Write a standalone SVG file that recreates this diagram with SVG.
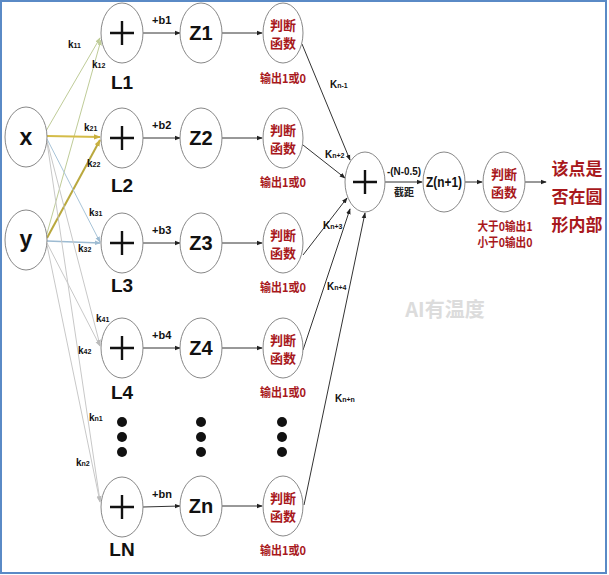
<svg xmlns="http://www.w3.org/2000/svg" width="609" height="575" viewBox="0 0 609 575">
<defs>
<marker id="ah" viewBox="0 0 8 8" refX="7" refY="4" markerWidth="6" markerHeight="6" orient="auto" markerUnits="userSpaceOnUse"><path d="M0,1 L8,4 L0,7 z" fill="#222"/></marker>
<marker id="ahy" viewBox="0 0 8 8" refX="7" refY="4" markerWidth="7" markerHeight="7" orient="auto" markerUnits="userSpaceOnUse"><path d="M0,1 L8,4 L0,7 z" fill="#c9b040"/></marker>
<marker id="ahb" viewBox="0 0 8 8" refX="7" refY="4" markerWidth="6" markerHeight="6" orient="auto" markerUnits="userSpaceOnUse"><path d="M0,1 L8,4 L0,7 z" fill="#9dbbd2"/></marker>
<marker id="ahg" viewBox="0 0 8 8" refX="7" refY="4" markerWidth="6" markerHeight="6" orient="auto" markerUnits="userSpaceOnUse"><path d="M0,1 L8,4 L0,7 z" fill="#bfcc98"/></marker>
<marker id="ahk" viewBox="0 0 8 8" refX="7" refY="4" markerWidth="6" markerHeight="6" orient="auto" markerUnits="userSpaceOnUse"><path d="M0,1 L8,4 L0,7 z" fill="#bbb"/></marker>
</defs>
<style>
.n{fill:#fff;stroke:#888;stroke-width:1}
.plus{stroke:#111;stroke-width:2.4;fill:none}
.big{font-family:"Liberation Sans",Arial,sans-serif;font-weight:bold;fill:#111;text-anchor:middle}
.lab{font-family:"Liberation Sans",Arial,sans-serif;font-weight:bold;fill:#111}
.red{font-family:"Noto Sans CJK SC","Liberation Sans",sans-serif;font-weight:bold;fill:#a8181c;text-anchor:middle}
.c{stroke:#333;stroke-width:1;fill:none;marker-end:url(#ah)}
.dot{fill:#111}
</style>
<rect x="1" y="1" width="605" height="572" fill="#fff" stroke="#5a8ac6" stroke-width="2"/>
<text x="445" y="317" font-family="Noto Sans CJK SC,Liberation Sans,sans-serif" font-size="20" font-weight="bold" fill="#dcdcdc" text-anchor="middle">AI有温度</text>

<g id="connectors">
<line x1="46" y1="131" x2="100" y2="38" stroke="#bfcc98" stroke-width="1" marker-end="url(#ahg)"/>
<line x1="46" y1="237" x2="101" y2="40" stroke="#bfcc98" stroke-width="1" marker-end="url(#ahg)"/>
<line x1="47" y1="136" x2="100" y2="137" stroke="#d4bc48" stroke-width="2" marker-end="url(#ahy)"/>
<line x1="47" y1="238" x2="100" y2="140" stroke="#b9a83e" stroke-width="2" marker-end="url(#ahy)"/>
<line x1="47" y1="139" x2="100" y2="242" stroke="#a8c4d8" stroke-width="1" marker-end="url(#ahb)"/>
<line x1="47" y1="241" x2="100" y2="243" stroke="#9dbbd2" stroke-width="1.5" marker-end="url(#ahb)"/>
<line x1="47" y1="141" x2="100" y2="345" stroke="#c8c8c8" stroke-width="1" marker-end="url(#ahk)"/>
<line x1="47" y1="243" x2="100" y2="346" stroke="#c8c8c8" stroke-width="1" marker-end="url(#ahk)"/>
<line x1="47" y1="142" x2="100" y2="501" stroke="#c8c8c8" stroke-width="1" marker-end="url(#ahk)"/>
<line x1="47" y1="245" x2="100" y2="502" stroke="#c8c8c8" stroke-width="1" marker-end="url(#ahk)"/>

<line class="c" x1="143" y1="33" x2="180" y2="33"/>
<line class="c" x1="143" y1="138" x2="180" y2="138"/>
<line class="c" x1="143" y1="243" x2="180" y2="243"/>
<line class="c" x1="143" y1="348" x2="180" y2="348"/>
<line class="c" x1="143" y1="507" x2="180" y2="506"/>
<line class="c" x1="222" y1="33" x2="262" y2="33"/>
<line class="c" x1="222" y1="138" x2="262" y2="138"/>
<line class="c" x1="222" y1="243" x2="262" y2="243"/>
<line class="c" x1="222" y1="348" x2="262" y2="348"/>
<line class="c" x1="222" y1="506" x2="262" y2="506"/>

<line class="c" x1="302" y1="44" x2="350" y2="160"/>
<line class="c" x1="303" y1="145" x2="345" y2="178"/>
<line class="c" x1="303" y1="255" x2="347" y2="198"/>
<line class="c" x1="303" y1="350" x2="350" y2="209"/>
<line class="c" x1="304" y1="505" x2="365" y2="213"/>

<line class="c" x1="385" y1="182" x2="422" y2="182"/>
<line class="c" x1="465" y1="182" x2="482" y2="182"/>
<line class="c" x1="525" y1="182" x2="546" y2="182"/>

<text class="lab" x="68" y="48" font-size="10">k<tspan font-size="7">11</tspan></text>
<text class="lab" x="92" y="68" font-size="10">k<tspan font-size="7">12</tspan></text>
<text class="lab" x="84" y="131" font-size="10">k<tspan font-size="7">21</tspan></text>
<text class="lab" x="87" y="167" font-size="10">k<tspan font-size="7">22</tspan></text>
<text class="lab" x="89" y="216" font-size="10">k<tspan font-size="7">31</tspan></text>
<text class="lab" x="78" y="252" font-size="10">k<tspan font-size="7">32</tspan></text>
<text class="lab" x="96" y="322" font-size="10">k<tspan font-size="7">41</tspan></text>
<text class="lab" x="78" y="354" font-size="10">k<tspan font-size="7">42</tspan></text>
<text class="lab" x="89" y="421" font-size="10">k<tspan font-size="7">n1</tspan></text>
<text class="lab" x="76" y="466" font-size="10">k<tspan font-size="7">n2</tspan></text>

<text class="lab" x="152" y="24" font-size="11">+b1</text>
<text class="lab" x="152" y="129" font-size="11">+b2</text>
<text class="lab" x="152" y="234" font-size="11">+b3</text>
<text class="lab" x="152" y="339" font-size="11">+b4</text>
<text class="lab" x="152" y="498" font-size="11">+bn</text>

<text class="lab" x="330" y="88" font-size="10">K<tspan font-size="7">n-1</tspan></text>
<text class="lab" x="325" y="158" font-size="10">K<tspan font-size="7">n+2</tspan></text>
<text class="lab" x="323" y="229" font-size="10">K<tspan font-size="7">n+3</tspan></text>
<text class="lab" x="327" y="290" font-size="10">K<tspan font-size="7">n+4</tspan></text>
<text class="lab" x="335" y="402" font-size="10">K<tspan font-size="7">n+n</tspan></text>

<text class="lab" x="387" y="175" font-size="11" textLength="34" lengthAdjust="spacingAndGlyphs">-(N-0.5)</text>
<text class="red" x="404" y="196" font-size="10" style="fill:#222">截距</text>
</g>

<g id="x"><ellipse class="n" cx="26" cy="137" rx="21" ry="30"/><text class="big" x="26" y="145" font-size="23">x</text></g>
<g id="y"><ellipse class="n" cx="26" cy="240" rx="21" ry="30"/><text class="big" x="26" y="247" font-size="23">y</text></g>

<g id="L1"><ellipse class="n" cx="122" cy="33" rx="21" ry="30"/><path class="plus" d="M110,33 H134 M122,21 V45"/><text class="big" x="122" y="89" font-size="19">L1</text></g>
<g id="L2"><ellipse class="n" cx="122" cy="138" rx="21" ry="30"/><path class="plus" d="M110,138 H134 M122,126 V150"/><text class="big" x="122" y="192" font-size="19">L2</text></g>
<g id="L3"><ellipse class="n" cx="122" cy="243" rx="21" ry="30"/><path class="plus" d="M110,243 H134 M122,231 V255"/><text class="big" x="122" y="292" font-size="19">L3</text></g>
<g id="L4"><ellipse class="n" cx="122" cy="348" rx="21" ry="30"/><path class="plus" d="M110,348 H134 M122,336 V360"/><text class="big" x="122" y="399" font-size="19">L4</text></g>
<g id="LN"><ellipse class="n" cx="122" cy="507" rx="21" ry="30"/><path class="plus" d="M110,507 H134 M122,495 V519"/><text class="big" x="122" y="556" font-size="19">LN</text></g>

<g id="Z1"><ellipse class="n" cx="201" cy="33" rx="21" ry="30"/><text class="big" x="201" y="40" font-size="20">Z1</text></g>
<g id="Z2"><ellipse class="n" cx="201" cy="138" rx="21" ry="30"/><text class="big" x="201" y="145" font-size="20">Z2</text></g>
<g id="Z3"><ellipse class="n" cx="201" cy="243" rx="21" ry="30"/><text class="big" x="201" y="250" font-size="20">Z3</text></g>
<g id="Z4"><ellipse class="n" cx="201" cy="348" rx="21" ry="30"/><text class="big" x="201" y="355" font-size="20">Z4</text></g>
<g id="Zn"><ellipse class="n" cx="201" cy="506" rx="21" ry="30"/><text class="big" x="201" y="513" font-size="20">Zn</text></g>

<g id="J1"><ellipse class="n" cx="283" cy="33" rx="20" ry="30"/><text class="red" x="283" y="30" font-size="13">判断</text><text class="red" x="283" y="48" font-size="13">函数</text><text class="red" x="283" y="83" font-size="12" textLength="46" lengthAdjust="spacingAndGlyphs">输出1或0</text></g>
<g id="J2"><ellipse class="n" cx="283" cy="138" rx="20" ry="30"/><text class="red" x="283" y="135" font-size="13">判断</text><text class="red" x="283" y="153" font-size="13">函数</text><text class="red" x="283" y="187" font-size="12" textLength="46" lengthAdjust="spacingAndGlyphs">输出1或0</text></g>
<g id="J3"><ellipse class="n" cx="283" cy="243" rx="20" ry="30"/><text class="red" x="283" y="240" font-size="13">判断</text><text class="red" x="283" y="258" font-size="13">函数</text><text class="red" x="283" y="292" font-size="12" textLength="46" lengthAdjust="spacingAndGlyphs">输出1或0</text></g>
<g id="J4"><ellipse class="n" cx="283" cy="348" rx="20" ry="30"/><text class="red" x="283" y="345" font-size="13">判断</text><text class="red" x="283" y="363" font-size="13">函数</text><text class="red" x="283" y="397" font-size="12" textLength="46" lengthAdjust="spacingAndGlyphs">输出1或0</text></g>
<g id="JN"><ellipse class="n" cx="283" cy="506" rx="20" ry="30"/><text class="red" x="283" y="503" font-size="13">判断</text><text class="red" x="283" y="521" font-size="13">函数</text><text class="red" x="283" y="555" font-size="12" textLength="46" lengthAdjust="spacingAndGlyphs">输出1或0</text></g>

<g id="dots">
<circle class="dot" cx="122" cy="422" r="5"/><circle class="dot" cx="122" cy="437" r="5"/><circle class="dot" cx="122" cy="452" r="5"/>
<circle class="dot" cx="201" cy="422" r="5"/><circle class="dot" cx="201" cy="437" r="5"/><circle class="dot" cx="201" cy="452" r="5"/>
<circle class="dot" cx="282" cy="422" r="5"/><circle class="dot" cx="282" cy="437" r="5"/><circle class="dot" cx="282" cy="452" r="5"/>
</g>

<g id="sum"><ellipse class="n" cx="365" cy="182" rx="20" ry="30"/><path class="plus" d="M353,182 H377 M365,170 V194"/></g>
<g id="Zn1"><ellipse class="n" cx="444" cy="182" rx="21" ry="30"/><text class="big" x="444" y="187" font-size="14" textLength="36" lengthAdjust="spacingAndGlyphs">Z(n+1)</text></g>
<g id="Jf"><ellipse class="n" cx="504" cy="182" rx="21" ry="30"/><text class="red" x="504" y="179" font-size="13">判断</text><text class="red" x="504" y="197" font-size="13">函数</text><text class="red" x="505" y="231" font-size="12" textLength="55" lengthAdjust="spacingAndGlyphs">大于0输出1</text><text class="red" x="505" y="247" font-size="12" textLength="55" lengthAdjust="spacingAndGlyphs">小于0输出0</text></g>
<g id="result"><text class="red" x="577" y="175" font-size="17">该点是</text><text class="red" x="577" y="203" font-size="17">否在圆</text><text class="red" x="577" y="231" font-size="17">形内部</text></g>
</svg>
